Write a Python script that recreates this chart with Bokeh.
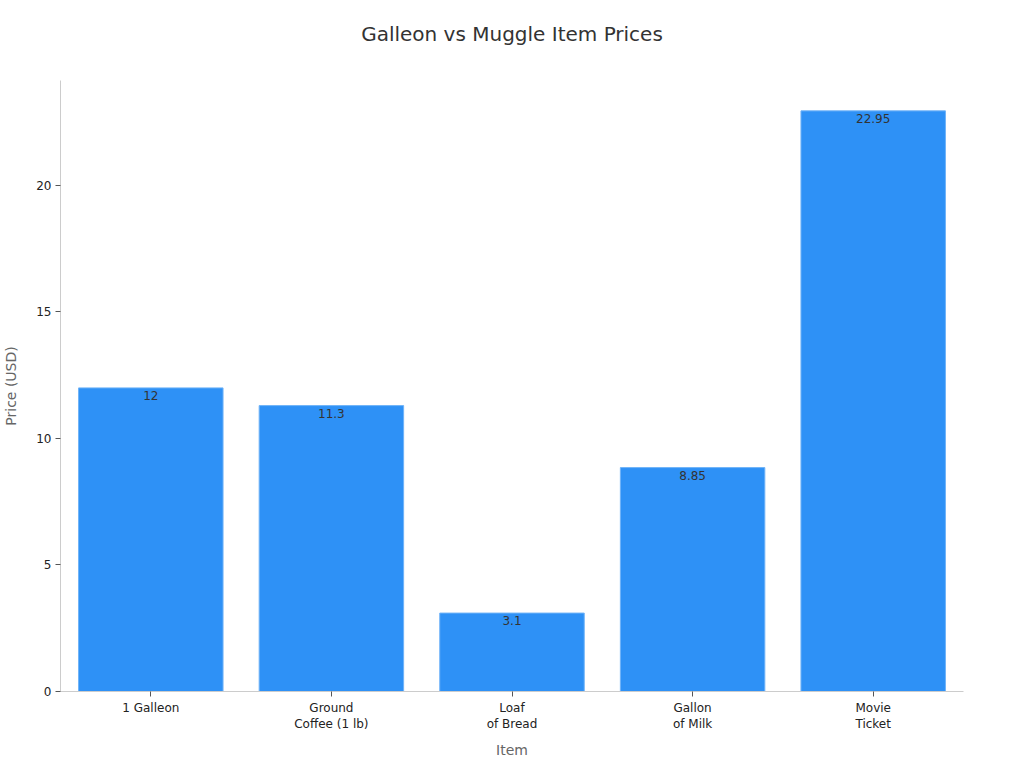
from bokeh.plotting import figure
from bokeh.models import ColumnDataSource, Range1d, SingleIntervalTicker, Title
from bokeh.embed import file_html
from bokeh.resources import INLINE

# chart data
items = ["1 Galleon", "Ground\nCoffee (1 lb)", "Loaf\nof Bread", "Gallon\nof Milk", "Movie\nTicket"]
prices = [12, 11.3, 3.1, 8.85, 22.95]
price_labels = ["12", "11.3", "3.1", "8.85", "22.95"]

FONT = "DejaVu Sans"

source = ColumnDataSource(dict(item=items, price=prices, label=price_labels))

p = figure(
    x_range=items,
    y_range=Range1d(0, 24.15),
    frame_width=903,
    frame_height=611,
    output_backend="svg",
    toolbar_location=None,
    min_border_left=52,
    min_border_right=53,
    min_border_top=80,
    min_border_bottom=60,
)
p.title = Title(text="Galleon vs Muggle Item Prices", align="center",
                text_font=FONT, text_font_size="20px", text_font_style="normal",
                text_color="#333333", standoff=36)
# small empty panel between the title and the frame
p.add_layout(Title(text=" ", text_font_size="8px", standoff=6), "above")
p.outline_line_color = None
p.background_fill_color = "white"
p.border_fill_color = "white"

# Bars
p.vbar(x="item", top="price", width=0.8, source=source,
       fill_color="#2e91f6", line_color="#6fb3f8", line_width=1)

# Value labels inside the bar tops
p.text(x="item", y="price", text="label", source=source,
       text_align="center", text_baseline="top", y_offset=3,
       text_font_size="12px", text_color="#333333",
       text_font={"value": FONT})

p.xgrid.visible = False
p.ygrid.visible = False

for ax in (p.xaxis, p.yaxis):
    ax.axis_line_color = "#cccccc"
    ax.major_tick_line_color = "#555555"
    ax.major_tick_out = 5
    ax.major_tick_in = 0
    ax.minor_tick_line_color = None
    ax.major_label_text_font = FONT
    ax.major_label_text_font_size = "12px"
    ax.major_label_text_color = "#222222"
    ax.axis_label_text_font = FONT
    ax.axis_label_text_font_size = "14px"
    ax.axis_label_text_font_style = "normal"
    ax.axis_label_text_color = "#666666"

p.xaxis.axis_label = "Item"
p.yaxis.axis_label = "Price (USD)"
p.yaxis.ticker = SingleIntervalTicker(interval=5)
p.yaxis.major_label_standoff = 4
p.xaxis.major_label_standoff = 4
p.xaxis.axis_label_standoff = 8
p.yaxis.axis_label_standoff = 14

open("out.html", "w").write(file_html(p, INLINE))
